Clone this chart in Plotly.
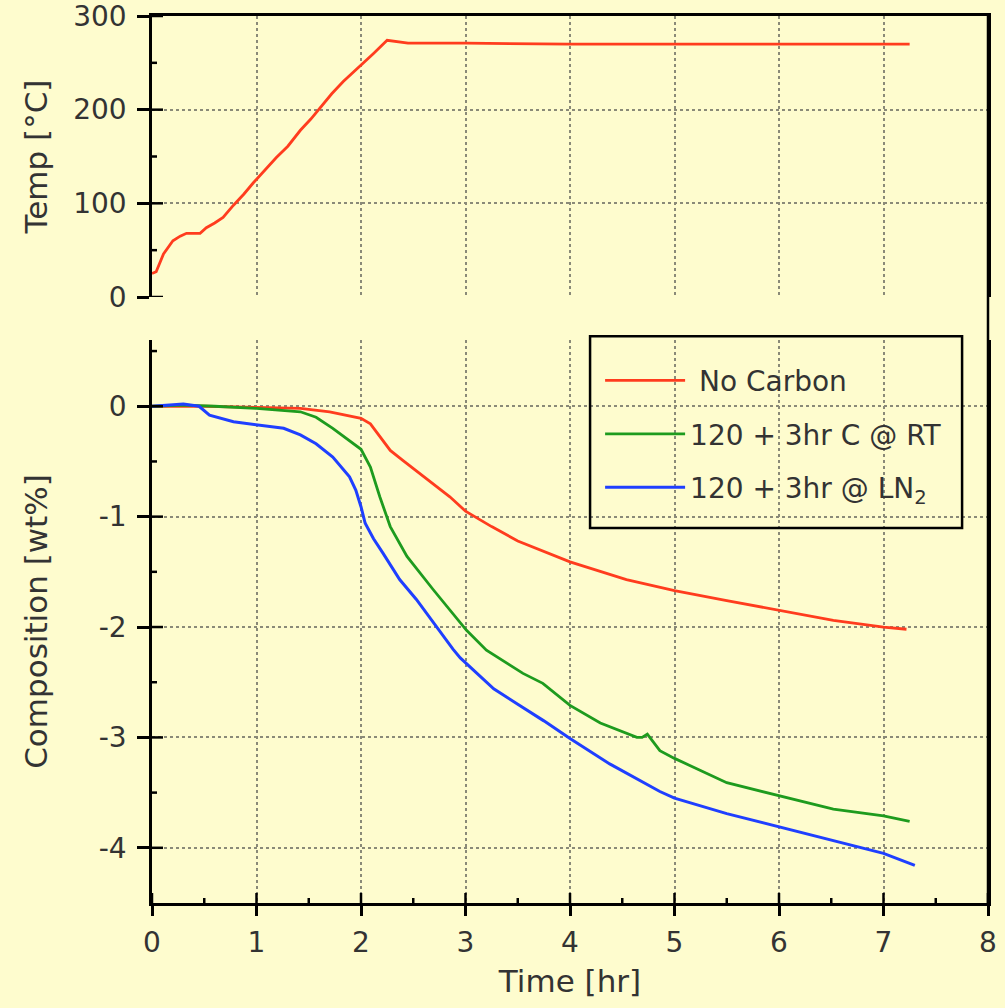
import plotly.graph_objects as go

# ---------------- data ----------------
time_temp = [0, 0.04, 0.11, 0.2, 0.27, 0.33, 0.46, 0.52, 0.6, 0.68, 0.78, 0.88, 0.97,
             1.08, 1.19, 1.3, 1.42, 1.52, 1.61, 1.72, 1.83, 1.92, 2.0, 2.12, 2.25,
             2.32, 2.45, 3.0, 4.0, 5.0, 6.0, 7.0, 7.25]
temp = [25, 27, 46, 60, 65, 68, 68, 74, 79, 85, 98, 110, 122,
        136, 149, 161, 178, 190, 202, 217, 230, 239, 247, 260, 274,
        273, 271, 271, 270, 270, 270, 270, 270]

time_nc = [0, 0.5, 1.0, 1.42, 1.7, 2.0, 2.09, 2.18, 2.28, 2.4, 2.63, 2.85, 3.0,
           3.25, 3.5, 4.0, 4.54, 5.0, 5.5, 6.0, 6.52, 7.0, 7.22]
comp_nc = [0, 0, -0.01, -0.02, -0.05, -0.11, -0.16, -0.27, -0.40, -0.49, -0.66, -0.82, -0.95,
           -1.09, -1.22, -1.41, -1.57, -1.67, -1.76, -1.85, -1.94, -2.0, -2.02]

time_rt = [0, 0.3, 0.6, 1.0, 1.42, 1.57, 1.73, 1.89, 2.0, 2.09, 2.18, 2.28, 2.44,
           2.69, 3.01, 3.2, 3.55, 3.74, 4.0, 4.29, 4.64, 4.69, 4.74, 4.86, 5.0,
           5.5, 6.0, 6.52, 7.0, 7.25]
comp_rt = [0, 0.01, 0, -0.02, -0.05, -0.10, -0.2, -0.31, -0.39, -0.55, -0.82, -1.09, -1.36,
           -1.66, -2.03, -2.21, -2.42, -2.51, -2.71, -2.87, -3.0, -3.0, -2.97, -3.12, -3.19,
           -3.41, -3.53, -3.65, -3.71, -3.76]

time_ln = [0, 0.15, 0.3, 0.45, 0.55, 0.78, 1.0, 1.26, 1.42, 1.57, 1.73, 1.89, 1.95,
           2.0, 2.04, 2.12, 2.21, 2.37, 2.53, 2.69, 2.88, 2.95, 3.27, 3.5, 3.75,
           4.0, 4.38, 4.86, 5.0, 5.5, 6.0, 6.52, 7.0, 7.3]
comp_ln = [0, 0.01, 0.02, 0, -0.08, -0.14, -0.17, -0.2, -0.26, -0.34, -0.46, -0.64, -0.76,
           -0.91, -1.06, -1.2, -1.33, -1.57, -1.75, -1.96, -2.2, -2.28, -2.56, -2.7, -2.85,
           -3.01, -3.24, -3.49, -3.55, -3.69, -3.81, -3.93, -4.05, -4.16]

series_names = [" No Carbon", "120 + 3hr C @ RT", "120 + 3hr @ LN<sub>2</sub>"]
x_ticks = [0, 1, 2, 3, 4, 5, 6, 7, 8]
x_minor = [0.5, 1.5, 2.5, 3.5, 4.5, 5.5, 6.5, 7.5]
temp_ticks = [0, 100, 200, 300]
temp_minor = [50, 150, 250]
comp_ticks = [0, -1, -2, -3, -4]
comp_minor = [0.5, -0.5, -1.5, -2.5, -3.5]

# ---------------- style ----------------
BG = "#FEFCCE"
FONT = "DejaVu Sans"
TXT = "#333333"
GRID = "#8a8a78"
RED, GREEN, BLUE = "#FF3C1E", "#1E9B1E", "#1F3FFF"

fig = go.Figure()
fig.add_trace(go.Scatter(x=time_temp, y=temp, mode="lines", xaxis="x", yaxis="y",
                         line=dict(color=RED, width=2.8), showlegend=False))
fig.add_trace(go.Scatter(x=time_nc, y=comp_nc, mode="lines", xaxis="x2", yaxis="y2",
                         name=series_names[0], legendgroup="a",
                         line=dict(color=RED, width=2.8)))
fig.add_trace(go.Scatter(x=time_rt, y=comp_rt, mode="lines", xaxis="x2", yaxis="y2",
                         name=series_names[1], legendgroup="b",
                         line=dict(color=GREEN, width=2.8)))
fig.add_trace(go.Scatter(x=time_ln, y=comp_ln, mode="lines", xaxis="x2", yaxis="y2",
                         name=series_names[2], legendgroup="c",
                         line=dict(color=BLUE, width=3)))

top_dom = [0.6832, 1.0]
bot_dom = [0.0, 0.6347]

grid = dict(showgrid=True, gridcolor=GRID, griddash="dot", gridwidth=2, zeroline=False)
tickfont = dict(family=FONT, size=28, color=TXT)
titlefont = dict(family=FONT, size=31, color=TXT)

common_x = dict(range=[0, 8], tickvals=x_ticks, linecolor="black", linewidth=2.5)

fig.update_layout(
    width=1005, height=1008,
    paper_bgcolor=BG, plot_bgcolor=BG,
    margin=dict(l=152, r=17, t=16, b=105, autoexpand=False),
    font=dict(family=FONT, color=TXT),
    xaxis=dict(domain=[0, 1], anchor="y", side="top", showline=True, ticks="",
               showticklabels=False, automargin=False, **common_x, **grid),
    yaxis=dict(domain=top_dom, anchor="x", range=[0, 300], tickvals=temp_ticks,
               ticktext=[str(v) for v in temp_ticks], ticklabeloverflow="allow",
               automargin=False,
               showline=True, mirror=True, linecolor="black", linewidth=2.5,
               ticks="outside", ticklen=12, tickwidth=2.5, tickcolor="black",
               tickfont=tickfont, ticklabelstandoff=5,
               title=dict(text="Temp [°C]", font=titlefont, standoff=17),
               **grid),
    xaxis2=dict(domain=[0, 1], anchor="y2", showline=True, mirror=False,
                ticks="outside", ticklen=10, tickwidth=2.5, tickcolor="black",
                tickfont=tickfont, ticklabelstandoff=3, ticklabeloverflow="allow",
                automargin=False,
                ticktext=[str(v) for v in x_ticks],
                title=dict(text="Time [hr]", font=titlefont, standoff=12),
                **common_x, **grid),
    yaxis2=dict(domain=bot_dom, anchor="x2", range=[-4.5, 0.6], tickvals=comp_ticks,
                ticktext=[str(v) for v in comp_ticks], ticklabeloverflow="allow",
                automargin=False,
                showline=True, mirror=True, linecolor="black", linewidth=2.5,
                ticks="outside", ticklen=12, tickwidth=2.5, tickcolor="black",
                tickfont=tickfont, ticklabelstandoff=5,
                title=dict(text="Composition [wt%]", font=titlefont, standoff=42),
                **grid),
    legend=dict(x=0.536, y=0.617, xanchor="left", yanchor="top",
                bgcolor="rgba(0,0,0,0)", borderwidth=0,
                font=dict(family=FONT, size=28, color=TXT),
                traceorder="grouped", tracegroupgap=14, itemwidth=80),
)

shapes = [
    dict(type="line", xref="paper", yref="paper", x0=1, x1=1, y0=0, y1=1,
         line=dict(color="black", width=2.5)),
    dict(type="rect", xref="paper", yref="paper", x0=0.524, x1=0.969,
         y0=0.4228, y1=0.639, line=dict(color="black", width=2.5)),
]


def ytick(yref, xref, val, half):
    return dict(type="line", xref=xref, yref=yref, xsizemode="pixel", xanchor=0,
                x0=-half, x1=half, y0=val, y1=val, line=dict(color="black", width=2.5))


def xtick(val, half):
    return dict(type="line", xref="x2", yref="y2", ysizemode="pixel", yanchor=-4.5,
                y0=-half, y1=half, x0=val, x1=val, line=dict(color="black", width=2.5))


for v in temp_ticks:
    shapes.append(ytick("y", "x", v, 11))
for v in temp_minor:
    shapes.append(ytick("y", "x", v, 5))
for v in comp_ticks:
    shapes.append(ytick("y2", "x2", v, 11))
for v in comp_minor:
    shapes.append(ytick("y2", "x2", v, 5))
for v in x_ticks:
    shapes.append(xtick(v, 10))
for v in x_minor:
    shapes.append(xtick(v, 5))

fig.update_layout(shapes=shapes)

fig.write_html("out.html")
